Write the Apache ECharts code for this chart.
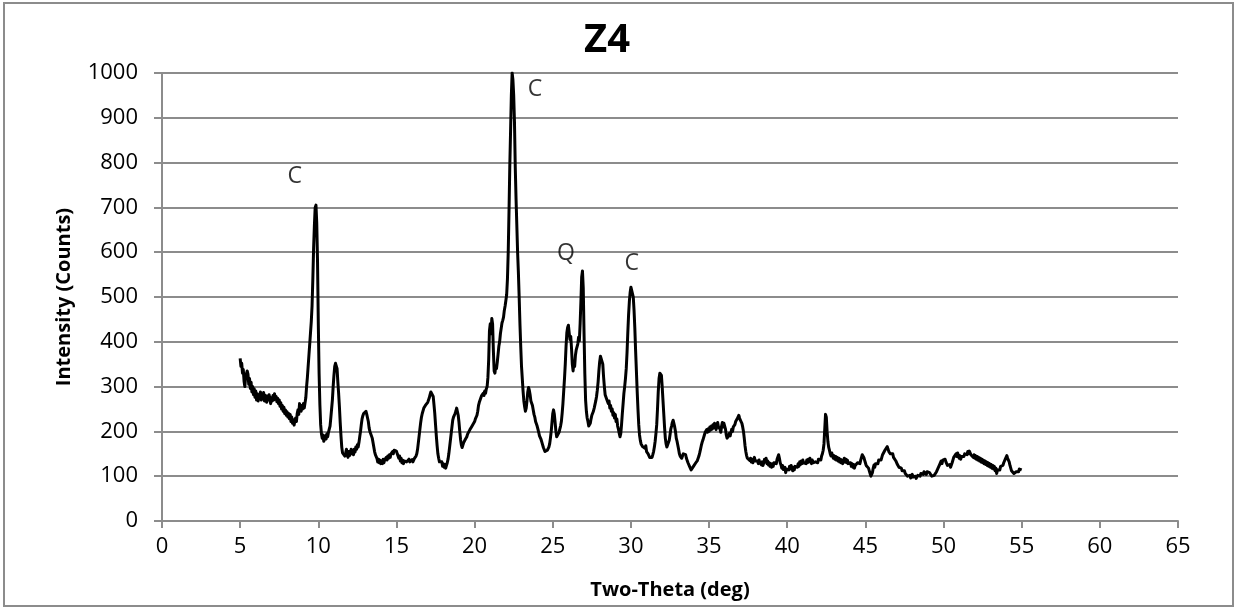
<!DOCTYPE html>
<html>
<head>
<meta charset="utf-8">
<script src="https://cdn.jsdelivr.net/npm/echarts@6/dist/echarts.min.js"></script>
<style>
  html, body { margin: 0; padding: 0; background: #ffffff; }
  #chart { width: 1237px; height: 610px; }
</style>
</head>
<body>
<div id="chart"></div>
<script>
// Z4 diffraction scan: [two-theta (deg), intensity (counts)]
const scan05to15 = [
[5.00,363],[5.05,345],[5.10,352],[5.15,330],[5.20,338],[5.25,312],[5.30,300],[5.35,322],[5.40,318],[5.45,335],
[5.50,328],[5.55,305],[5.60,318],[5.65,296],[5.70,310],[5.75,288],[5.80,300],[5.85,282],[5.90,295],[5.95,276],
[6.00,290],[6.05,270],[6.10,284],[6.15,268],[6.20,280],[6.25,274],[6.30,288],[6.35,270],[6.40,283],[6.45,276],
[6.50,287],[6.55,268],[6.60,281],[6.65,272],[6.70,265],[6.75,279],[6.80,270],[6.85,282],[6.90,274],[6.95,262],
[7.00,275],[7.05,268],[7.10,280],[7.15,270],[7.20,284],[7.25,272],[7.30,278],[7.35,266],[7.40,274],[7.45,262],
[7.50,270],[7.55,256],[7.60,264],[7.65,250],[7.70,258],[7.75,245],[7.80,254],[7.85,240],[7.90,248],[7.95,236],
[8.00,244],[8.05,232],[8.10,240],[8.15,228],[8.20,238],[8.25,222],[8.30,232],[8.35,218],[8.40,226],[8.45,214],
[8.50,224],[8.55,230],[8.60,222],[8.65,240],[8.70,248],[8.75,238],[8.80,262],[8.85,252],[8.90,245],[8.95,258],
[9.00,250],[9.05,262],[9.10,252],[9.15,256],[9.20,275],[9.25,300],[9.30,320],[9.35,345],[9.40,370],[9.45,395],
[9.50,420],[9.55,445],[9.60,480],[9.65,540],[9.70,610],[9.75,660],[9.80,700],[9.85,705],[9.90,665],[9.95,580],
[10.00,440],[10.05,330],[10.10,260],[10.15,215],[10.20,195],[10.25,185],[10.30,192],[10.35,178],[10.40,176],[10.45,190],
[10.50,183],[10.55,195],[10.60,188],[10.65,198],[10.70,205],[10.75,212],[10.80,230],[10.85,250],[10.90,270],[10.95,300],
[11.00,325],[11.05,345],[11.10,352],[11.15,355],[11.20,340],[11.25,310],[11.30,285],[11.35,255],[11.40,220],[11.45,190],
[11.50,165],[11.55,152],[11.60,148],[11.65,156],[11.70,145],[11.75,152],[11.80,160],[11.85,148],[11.90,142],[11.95,155],
[12.00,146],[12.05,152],[12.10,160],[12.15,150],[12.20,158],[12.25,148],[12.30,160],[12.35,154],[12.40,165],[12.45,160],
[12.50,170],[12.55,165],[12.60,175],[12.65,188],[12.70,200],[12.75,215],[12.80,228],[12.85,235],[12.90,240],[12.95,244],
[13.00,242],[13.05,245],[13.10,238],[13.15,230],[13.20,222],[13.25,208],[13.30,200],[13.35,196],[13.40,198],[13.45,185],
[13.50,175],[13.55,165],[13.60,155],[13.65,148],[13.70,145],[13.75,140],[13.80,132],[13.85,138],[13.90,130],[13.95,136],
[14.00,128],[14.05,134],[14.10,128],[14.15,138],[14.20,130],[14.25,137],[14.30,133],[14.35,142],[14.40,136],[14.45,145],
[14.50,140],[14.55,148],[14.60,142],[14.65,150],[14.70,146],[14.75,155],[14.80,150],[14.85,158],[14.90,162],[14.95,160]
];
const scan15to25 = [
[15.00,156],[15.05,150],[15.10,148],[15.15,140],[15.20,145],[15.25,134],[15.30,140],[15.35,130],[15.40,136],[15.45,128],
[15.50,134],[15.55,130],[15.60,138],[15.65,132],[15.70,136],[15.75,130],[15.80,138],[15.85,132],[15.90,136],[15.95,130],
[16.00,137],[16.05,132],[16.10,136],[16.15,140],[16.20,138],[16.25,145],[16.30,150],[16.35,160],[16.40,175],[16.45,190],
[16.50,205],[16.55,220],[16.60,232],[16.65,240],[16.70,238],[16.75,252],[16.80,248],[16.85,258],[16.90,262],[16.95,256],
[17.00,265],[17.05,270],[17.10,275],[17.15,282],[17.20,288],[17.25,292],[17.30,290],[17.35,278],[17.40,260],[17.45,240],
[17.50,215],[17.55,190],[17.60,168],[17.65,150],[17.70,140],[17.75,132],[17.80,136],[17.85,128],[17.90,132],[17.95,122],
[18.00,128],[18.05,120],[18.10,126],[18.15,118],[18.20,124],[18.25,130],[18.30,138],[18.35,150],[18.40,165],[18.45,180],
[18.50,195],[18.55,210],[18.60,225],[18.65,232],[18.70,228],[18.75,240],[18.80,245],[18.85,252],[18.90,248],[18.95,236],
[19.00,220],[19.05,200],[19.10,182],[19.15,170],[19.20,164],[19.25,168],[19.30,175],[19.35,172],[19.40,182],[19.45,178],
[19.50,188],[19.55,194],[19.60,190],[19.65,198],[19.70,204],[19.75,200],[19.80,210],[19.85,206],[19.90,216],[19.95,212],
[20.00,222],[20.05,228],[20.10,225],[20.15,236],[20.20,245],[20.25,258],[20.30,265],[20.35,262],[20.40,275],[20.45,280],
[20.50,276],[20.55,285],[20.60,280],[20.65,290],[20.70,285],[20.75,295],[20.80,300],[20.85,320],[20.90,360],[20.95,425],
[21.00,440],[21.05,418],[21.10,452],[21.15,440],[21.20,380],[21.25,335],[21.30,330],[21.35,345],[21.40,340],[21.45,355],
[21.50,372],[21.55,390],[21.60,400],[21.65,418],[21.70,430],[21.75,442],[21.80,448],[21.85,455],[21.90,470],[21.95,480],
[22.00,492],[22.05,505],[22.10,540],[22.15,600],[22.20,690],[22.25,790],[22.30,870],[22.35,950],[22.40,1000],[22.45,985],
[22.50,950],[22.55,890],[22.60,790],[22.65,720],[22.70,660],[22.75,600],[22.80,555],[22.85,500],[22.90,440],[22.95,390],
[23.00,345],[23.05,318],[23.10,290],[23.15,268],[23.20,255],[23.25,245],[23.30,252],[23.35,268],[23.40,288],[23.45,298],
[23.50,292],[23.55,282],[23.60,268],[23.65,272],[23.70,258],[23.75,248],[23.80,238],[23.85,232],[23.90,222],[23.95,226],
[24.00,212],[24.05,205],[24.10,198],[24.15,190],[24.20,192],[24.25,182],[24.30,176],[24.35,170],[24.40,164],[24.45,160],
[24.50,155],[24.55,156],[24.60,152],[24.65,158],[24.70,160],[24.75,165],[24.80,172],[24.85,185],[24.90,200],[24.95,220]
];
const scan25to35 = [
[25.00,240],[25.05,248],[25.10,238],[25.15,220],[25.20,200],[25.25,188],[25.30,186],[25.35,190],[25.40,198],[25.45,205],
[25.50,212],[25.55,222],[25.60,240],[25.65,262],[25.70,290],[25.75,318],[25.80,350],[25.85,390],[25.90,420],[25.95,432],
[26.00,437],[26.05,420],[26.10,405],[26.15,412],[26.20,385],[26.25,350],[26.30,335],[26.35,355],[26.40,345],[26.45,370],
[26.50,382],[26.55,378],[26.60,395],[26.65,410],[26.70,402],[26.75,440],[26.80,490],[26.85,545],[26.90,558],[26.95,520],
[27.00,420],[27.05,330],[27.10,270],[27.15,245],[27.20,230],[27.25,222],[27.30,212],[27.35,210],[27.40,218],[27.45,228],
[27.50,236],[27.55,232],[27.60,245],[27.65,252],[27.70,256],[27.75,268],[27.80,278],[27.85,292],[27.90,310],[27.95,335],
[28.00,355],[28.05,368],[28.10,372],[28.15,368],[28.20,350],[28.25,322],[28.30,300],[28.35,282],[28.40,285],[28.45,272],
[28.50,276],[28.55,262],[28.60,268],[28.65,252],[28.70,258],[28.75,245],[28.80,250],[28.85,236],[28.90,242],[28.95,230],
[29.00,238],[29.05,222],[29.10,228],[29.15,212],[29.20,205],[29.25,196],[29.30,188],[29.35,195],[29.40,215],[29.45,240],
[29.50,262],[29.55,285],[29.60,300],[29.65,318],[29.70,340],[29.75,375],[29.80,420],[29.85,460],[29.90,490],[29.95,510],
[30.00,522],[30.05,525],[30.10,520],[30.15,500],[30.20,470],[30.25,430],[30.30,380],[30.35,335],[30.40,290],[30.45,250],
[30.50,215],[30.55,192],[30.60,180],[30.65,172],[30.70,175],[30.75,166],[30.80,170],[30.85,165],[30.90,162],[30.95,168],
[31.00,155],[31.05,158],[31.10,150],[31.15,146],[31.20,142],[31.25,145],[31.30,140],[31.35,142],[31.40,148],[31.45,155],
[31.50,165],[31.55,178],[31.60,195],[31.65,215],[31.70,250],[31.75,290],[31.80,318],[31.85,330],[31.90,332],[31.95,325],
[32.00,300],[32.05,270],[32.10,240],[32.15,210],[32.20,185],[32.25,172],[32.30,165],[32.35,162],[32.40,168],[32.45,180],
[32.50,192],[32.55,205],[32.60,212],[32.65,220],[32.70,225],[32.75,222],[32.80,210],[32.85,200],[32.90,185],[32.95,178],
[33.00,175],[33.05,160],[33.10,150],[33.15,145],[33.20,148],[33.25,140],[33.30,145],[33.35,150],[33.40,146],[33.45,152],
[33.50,148],[33.55,140],[33.60,136],[33.65,130],[33.70,126],[33.75,122],[33.80,118],[33.85,114],[33.90,118],[33.95,115],
[34.00,122],[34.05,126],[34.10,124],[34.15,130],[34.20,128],[34.25,135],[34.30,138],[34.35,145],[34.40,152],[34.45,160],
[34.50,168],[34.55,175],[34.60,180],[34.65,186],[34.70,192],[34.75,198],[34.80,195],[34.85,204],[34.90,198],[34.95,206]
];
const scan35to45 = [
[35.00,200],[35.05,210],[35.10,203],[35.15,212],[35.20,205],[35.25,215],[35.30,208],[35.35,218],[35.40,210],[35.45,204],
[35.50,215],[35.55,220],[35.60,210],[35.65,214],[35.70,205],[35.75,198],[35.80,212],[35.85,220],[35.90,210],[35.95,218],
[36.00,222],[36.05,205],[36.10,192],[36.15,185],[36.20,182],[36.25,190],[36.30,196],[36.35,190],[36.40,198],[36.45,205],
[36.50,200],[36.55,210],[36.60,206],[36.65,215],[36.70,222],[36.75,218],[36.80,228],[36.85,232],[36.90,236],[36.95,230],
[37.00,225],[37.05,228],[37.10,218],[37.15,210],[37.20,200],[37.25,185],[37.30,168],[37.35,155],[37.40,146],[37.45,140],
[37.50,136],[37.55,142],[37.60,135],[37.65,140],[37.70,132],[37.75,138],[37.80,130],[37.85,136],[37.90,142],[37.95,134],
[38.00,138],[38.05,130],[38.10,134],[38.15,128],[38.20,136],[38.25,130],[38.30,134],[38.35,125],[38.40,132],[38.45,124],
[38.50,130],[38.55,138],[38.60,132],[38.65,140],[38.70,128],[38.75,134],[38.80,125],[38.85,130],[38.90,122],[38.95,128],
[39.00,120],[39.05,128],[39.10,122],[39.15,130],[39.20,126],[39.25,132],[39.30,128],[39.35,138],[39.40,142],[39.45,148],
[39.50,140],[39.55,130],[39.60,125],[39.65,118],[39.70,124],[39.75,115],[39.80,112],[39.85,120],[39.90,108],[39.95,116],
[40.00,112],[40.05,120],[40.10,114],[40.15,122],[40.20,116],[40.25,124],[40.30,118],[40.35,112],[40.40,120],[40.45,114],
[40.50,122],[40.55,118],[40.60,126],[40.65,120],[40.70,128],[40.75,122],[40.80,132],[40.85,126],[40.90,134],[40.95,128],
[41.00,136],[41.05,130],[41.10,126],[41.15,134],[41.20,128],[41.25,136],[41.30,130],[41.35,138],[41.40,132],[41.45,140],
[41.50,134],[41.55,128],[41.60,136],[41.65,130],[41.70,134],[41.75,126],[41.80,132],[41.85,128],[41.90,135],[41.95,130],
[42.00,138],[42.05,134],[42.10,140],[42.15,136],[42.20,145],[42.25,150],[42.30,158],[42.35,172],[42.40,205],[42.45,238],
[42.50,232],[42.55,200],[42.60,178],[42.65,165],[42.70,158],[42.75,150],[42.80,145],[42.85,152],[42.90,146],[42.95,140],
[43.00,146],[43.05,138],[43.10,144],[43.15,136],[43.20,142],[43.25,134],[43.30,140],[43.35,132],[43.40,138],[43.45,130],
[43.50,136],[43.55,128],[43.60,134],[43.65,140],[43.70,132],[43.75,138],[43.80,130],[43.85,136],[43.90,128],[43.95,132],
[44.00,124],[44.05,130],[44.10,122],[44.15,128],[44.20,120],[44.25,126],[44.30,118],[44.35,124],[44.40,128],[44.45,122],
[44.50,130],[44.55,126],[44.60,134],[44.65,128],[44.70,136],[44.75,142],[44.80,148],[44.85,150],[44.90,142],[44.95,136]
];
const scan45to55 = [
[45.00,130],[45.05,124],[45.10,120],[45.15,126],[45.20,118],[45.25,112],[45.30,108],[45.35,100],[45.40,96],[45.45,108],
[45.50,118],[45.55,125],[45.60,120],[45.65,128],[45.70,124],[45.75,132],[45.80,128],[45.85,136],[45.90,132],[45.95,140],
[46.00,136],[46.05,142],[46.10,148],[46.15,145],[46.20,152],[46.25,158],[46.30,162],[46.35,160],[46.40,166],[46.45,160],
[46.50,155],[46.55,158],[46.60,150],[46.65,154],[46.70,146],[46.75,150],[46.80,142],[46.85,146],[46.90,138],[46.95,134],
[47.00,130],[47.05,126],[47.10,128],[47.15,120],[47.20,122],[47.25,116],[47.30,118],[47.35,112],[47.40,114],[47.45,108],
[47.50,112],[47.55,106],[47.60,110],[47.65,104],[47.70,100],[47.75,104],[47.80,98],[47.85,102],[47.90,96],[47.95,100],
[48.00,104],[48.05,98],[48.10,102],[48.15,96],[48.20,100],[48.25,95],[48.30,99],[48.35,102],[48.40,98],[48.45,104],
[48.50,100],[48.55,106],[48.60,102],[48.65,108],[48.70,104],[48.75,110],[48.80,106],[48.85,112],[48.90,104],[48.95,110],
[49.00,106],[49.05,112],[49.10,108],[49.15,104],[49.20,108],[49.25,100],[49.30,104],[49.35,98],[49.40,102],[49.45,106],
[49.50,104],[49.55,110],[49.60,114],[49.65,118],[49.70,122],[49.75,126],[49.80,130],[49.85,134],[49.90,128],[49.95,136],
[50.00,140],[50.05,134],[50.10,138],[50.15,132],[50.20,128],[50.25,124],[50.30,128],[50.35,122],[50.40,126],[50.45,120],
[50.50,124],[50.55,130],[50.60,136],[50.65,142],[50.70,138],[50.75,146],[50.80,150],[50.85,144],[50.90,152],[50.95,148],
[51.00,140],[51.05,146],[51.10,138],[51.15,144],[51.20,140],[51.25,148],[51.30,144],[51.35,150],[51.40,146],[51.45,152],
[51.50,148],[51.55,155],[51.60,150],[51.65,156],[51.70,152],[51.75,148],[51.80,144],[51.85,150],[51.90,142],[51.95,148],
[52.00,140],[52.05,146],[52.10,138],[52.15,144],[52.20,136],[52.25,142],[52.30,134],[52.35,140],[52.40,132],[52.45,138],
[52.50,130],[52.55,136],[52.60,128],[52.65,134],[52.70,126],[52.75,132],[52.80,124],[52.85,130],[52.90,122],[52.95,128],
[53.00,120],[53.05,126],[53.10,118],[53.15,124],[53.20,116],[53.25,122],[53.30,112],[53.35,118],[53.40,106],[53.45,114],
[53.50,110],[53.55,118],[53.60,114],[53.65,122],[53.70,118],[53.75,126],[53.80,124],[53.85,130],[53.90,134],[53.95,138],
[54.00,142],[54.05,146],[54.10,140],[54.15,144],[54.20,132],[54.25,124],[54.30,118],[54.35,112],[54.40,108],[54.45,112],
[54.50,106],[54.55,110],[54.60,104],[54.65,110],[54.70,108],[54.75,114],[54.80,110],[54.85,116],[54.90,112],[54.95,118],
[55.00,114]
];

// Phase labels (C = calcite, Q = quartz) placed at [two-theta, counts]
const phaseLabels = [
  { name: 'C', value: [8.5, 768] },
  { name: 'C', value: [23.86, 964] },
  { name: 'Q', value: [25.85, 598] },
  { name: 'C', value: [30.05, 575] }
];

const chartTitle = 'Z4';
const xAxisTitle = 'Two-Theta (deg)';
const yAxisTitle = 'Intensity (Counts)';

const scan = [].concat(scan05to15, scan15to25, scan25to35, scan35to45, scan45to55);

const FONT = '"Open Sans", "Liberation Sans", sans-serif';
const GRID_GRAY = '#8c8c8c';

const chart = echarts.init(document.getElementById('chart'), null, { renderer: 'canvas' });

chart.setOption({
  backgroundColor: '#ffffff',
  animation: false,
  title: {
    text: chartTitle,
    left: 579,
    top: 16,
    textStyle: { fontFamily: FONT, fontSize: 40, fontWeight: 'bold', color: '#000000' }
  },
  graphic: [{
    type: 'rect',
    shape: { x: 4, y: 3, width: 1229, height: 603 },
    style: { fill: 'none', stroke: '#8c8c8c', lineWidth: 2 },
    silent: true,
    z: -1
  }],
  grid: { left: 162, right: 59, top: 73, bottom: 89, containLabel: false },
  xAxis: {
    type: 'value',
    min: 0,
    max: 65,
    interval: 5,
    name: xAxisTitle,
    nameLocation: 'middle',
    nameGap: 59,
    nameTextStyle: { fontFamily: FONT, fontSize: 20, fontWeight: 'bold', color: '#000000' },
    axisLine: { show: true, lineStyle: { color: GRID_GRAY, width: 2 } },
    axisTick: { show: true, length: 7, lineStyle: { color: GRID_GRAY, width: 2 } },
    axisLabel: { margin: 15, fontFamily: FONT, fontSize: 22, color: '#000000' },
    splitLine: { show: false }
  },
  yAxis: {
    type: 'value',
    min: 0,
    max: 1000,
    interval: 100,
    name: yAxisTitle,
    nameLocation: 'middle',
    nameGap: 88,
    nameRotate: 90,
    nameTextStyle: { fontFamily: FONT, fontSize: 20, fontWeight: 'bold', color: '#000000' },
    axisLine: { show: true, lineStyle: { color: GRID_GRAY, width: 2 } },
    axisTick: { show: true, length: 8, lineStyle: { color: GRID_GRAY, width: 2 } },
    axisLabel: {
      margin: 24, fontFamily: FONT, fontSize: 22, color: '#000000',
      formatter: (v) => String(v)
    },
    splitLine: { show: true, lineStyle: { color: GRID_GRAY, width: 2 } }
  },
  series: [
    {
      type: 'line',
      data: scan,
      showSymbol: false,
      symbol: 'none',
      smooth: false,
      lineStyle: { color: '#000000', width: 3, join: 'round' },
      z: 3
    },
    {
      type: 'scatter',
      data: phaseLabels,
      symbolSize: 0,
      label: {
        show: true,
        position: 'inside',
        formatter: '{b}',
        fontFamily: FONT,
        fontSize: 23,
        color: '#000000'
      },
      z: 4
    }
  ]
});
</script>
</body>
</html>
